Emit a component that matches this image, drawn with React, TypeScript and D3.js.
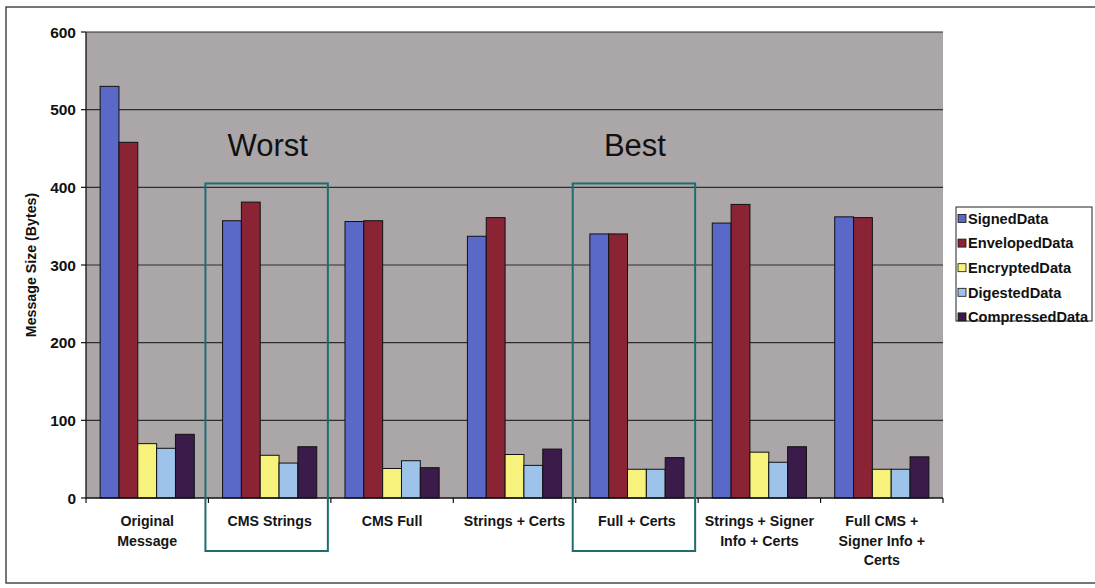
import React from "react";
import * as d3 from "d3";

// Message size per encoding variant, one array per CMS content type
const categories = [
  "Original\nMessage",
  "CMS Strings",
  "CMS Full",
  "Strings + Certs",
  "Full + Certs",
  "Strings + Signer\nInfo + Certs",
  "Full CMS +\nSigner Info +\nCerts",
];
const seriesNames = ["SignedData", "EnvelopedData", "EncryptedData", "DigestedData", "CompressedData"];
const signedData = [530, 357, 356, 337, 340, 354, 362];
const envelopedData = [458, 381, 357, 361, 340, 378, 361];
const encryptedData = [70, 55, 38, 56, 37, 59, 37];
const digestedData = [64, 45, 48, 42, 37, 46, 37];
const compressedData = [82, 66, 39, 63, 52, 66, 53];
const seriesColors = ["#5a68c8", "#8a2434", "#f6f27c", "#9dc3ea", "#3b1b4a"];
const yTicks = [0, 100, 200, 300, 400, 500, 600];
const highlights = [
  { category: "CMS Strings", label: "Worst" },
  { category: "Full + Certs", label: "Best" },
];

const FONT = "'Liberation Sans', Arial, Helvetica, sans-serif";

export default function App() {
  const W = 1095;
  const H = 588;
  const left = 86;
  const right = 943;
  const top = 32;
  const bottom = 498;

  const series = [signedData, envelopedData, encryptedData, digestedData, compressedData];

  const x = d3.scaleBand<string>().domain(categories).range([left, right]).paddingInner(0).paddingOuter(0);
  const inner = d3
    .scaleBand<string>()
    .domain(seriesNames)
    .range([0, x.bandwidth()])
    .paddingInner(0)
    .paddingOuter(0.75);
  const y = d3.scaleLinear().domain([0, 600]).range([bottom, top]);

  const boundaries = categories.map((c) => x(c) as number).concat([right]);

  return (
    <svg
      width={W}
      height={H}
      viewBox={`0 0 ${W} ${H}`}
      style={{ position: "fixed", left: 0, top: 0, background: "#ffffff" }}
      fontFamily={FONT}
    >
      {/* chart frame */}
      <rect x={6} y={7} width={W + 10} height={576} fill="#ffffff" stroke="#4a4a4a" strokeWidth={1.5} />

      {/* plot area */}
      <rect x={left} y={top} width={right - left} height={bottom - top} fill="#aba7a9" />

      {/* gridlines */}
      {yTicks
        .filter((t) => t > 0)
        .map((t) => (
          <line key={`g${t}`} x1={left} x2={right} y1={y(t)} y2={y(t)} stroke="#2e2e2e" strokeWidth={1.2} />
        ))}

      {/* bars */}
      {categories.map((c, ci) => (
        <g key={`c${ci}`} transform={`translate(${x(c)},0)`}>
          {seriesNames.map((s, si) => {
            const v = series[si][ci];
            return (
              <rect
                key={s}
                x={inner(s)}
                y={y(v)}
                width={inner.bandwidth()}
                height={y(0) - y(v)}
                fill={seriesColors[si]}
                stroke="#111111"
                strokeWidth={1}
              />
            );
          })}
        </g>
      ))}

      {/* axes */}
      <line x1={left} x2={left} y1={top} y2={bottom} stroke="#111" strokeWidth={1.3} />
      <line x1={left} x2={right} y1={bottom} y2={bottom} stroke="#111" strokeWidth={1.3} />
      {yTicks.map((t) => (
        <g key={`yt${t}`}>
          <line x1={left - 5} x2={left} y1={y(t)} y2={y(t)} stroke="#111" strokeWidth={1.2} />
          <text
            x={left - 10}
            y={y(t)}
            dy="0.36em"
            textAnchor="end"
            fontSize={15.5}
            fontWeight="bold"
            fill="#111"
          >
            {t}
          </text>
        </g>
      ))}
      {boundaries.map((bx, i) => (
        <line key={`xt${i}`} x1={bx} x2={bx} y1={bottom} y2={bottom + 5} stroke="#111" strokeWidth={1.2} />
      ))}

      {/* category labels */}
      {categories.map((c, ci) => {
        const cx = (x(c) as number) + x.bandwidth() / 2;
        const lines = c.split("\n");
        return (
          <text key={`xl${ci}`} x={cx} textAnchor="middle" fontSize={14.2} fontWeight="bold" fill="#151515">
            {lines.map((ln, li) => (
              <tspan key={li} x={cx} y={526 + li * 19.5}>
                {ln}
              </tspan>
            ))}
          </text>
        );
      })}

      {/* y axis title */}
      <text
        transform={`translate(36,${(top + bottom) / 2}) rotate(-90)`}
        textAnchor="middle"
        fontSize={14.2}
        fontWeight="bold"
        fill="#111"
      >
        Message Size (Bytes)
      </text>

      {/* highlighted categories */}
      {highlights.map((h) => {
        const bx = x(h.category) as number;
        return (
          <g key={h.label}>
            <rect
              x={bx - 3}
              y={y(405)}
              width={x.bandwidth()}
              height={551 - y(405)}
              fill="none"
              stroke="#1f6d6e"
              strokeWidth={2}
            />
            <text
              x={bx + x.bandwidth() / 2 - 2}
              y={y(440)}
              textAnchor="middle"
              fontSize={31}
              fill="#111"
            >
              {h.label}
            </text>
          </g>
        );
      })}

      {/* legend */}
      <g>
        <rect x={956} y={207} width={136} height={114} fill="#ffffff" stroke="#222" strokeWidth={1} />
        {seriesNames.map((s, si) => {
          const cy = 218.5 + si * 24.6;
          return (
            <g key={`lg${s}`}>
              <rect x={958} y={cy - 4} width={8} height={8} fill={seriesColors[si]} stroke="#111" strokeWidth={0.8} />
              <text x={968} y={cy} dy="0.36em" fontSize={14.6} fontWeight="bold" fill="#111">
                {s}
              </text>
            </g>
          );
        })}
      </g>
    </svg>
  );
}
